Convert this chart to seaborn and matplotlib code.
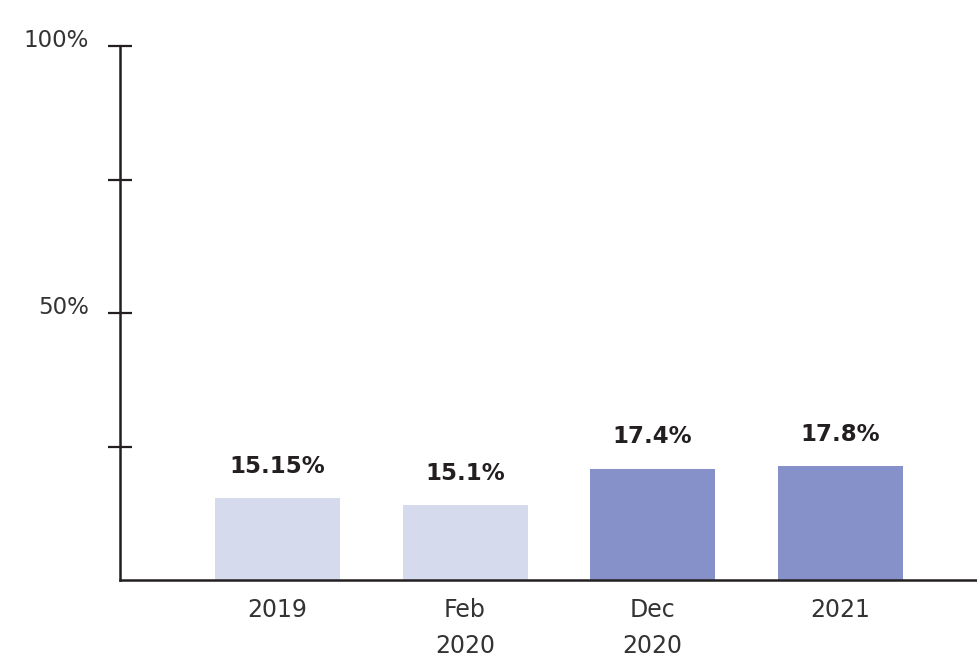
import numpy as np
import pandas as pd
import matplotlib
matplotlib.use("Agg")
import matplotlib.pyplot as plt
import seaborn as sns
from matplotlib.transforms import ScaledTranslation

# donnees
periods = ["2019", "Feb\n2020", "Dec\n2020", "2021"]
bar_heights = [15.36, 14.04, 20.8, 21.35]   # hauteurs
bar_labels = ["15.15%", "15.1%", "17.4%", "17.8%"]
bar_colors = ["#d5dbed", "#d5dbed", "#8591c8", "#8591c8"]
y_ticks = [25, 50, 75, 100]
y_ticklabels = ["", "50%", "", "100%"]

sns.set_style("white")
plt.rcParams["font.family"] = ["DejaVu Sans"]
ink = "#231f20"

df = pd.DataFrame({"period": periods, "value": bar_heights})

fig = plt.figure(figsize=(9.77, 6.62), dpi=100)
ax = fig.add_axes([120 / 977, 82 / 662, 857 / 977, 534 / 662])

sns.barplot(data=df, x="period", y="value", hue="period",
            palette=bar_colors, legend=False, width=0.667, ax=ax,
            saturation=1, linewidth=0)

# etiquettes au-dessus des barres
for i, (h, lab) in enumerate(zip(bar_heights, bar_labels)):
    ax.annotate(lab, (i, h), xytext=(0, 23), textcoords="offset points",
                ha="center", va="center", fontsize=16.5, fontweight="bold",
                color=ink)

ax.set_xlim(-0.84, 3.73)
ax.set_ylim(0, 100)
ax.set_yticks(y_ticks)
ax.set_yticklabels(y_ticklabels, fontsize=16.5, color="#333333")
ax.set_xlabel("")
ax.set_ylabel("")
ax.tick_params(axis="y", left=True, direction="inout", length=17, width=1.6,
               color=ink, pad=14)
ax.tick_params(axis="x", bottom=False, length=0, pad=13, labelsize=17,
               labelcolor="#333333")
for lab in ax.get_xticklabels():
    lab.set_linespacing(1.65)
for lab in ax.get_yticklabels():
    lab.set_transform(lab.get_transform()
                      + ScaledTranslation(0, 8 / 100, fig.dpi_scale_trans))

sns.despine(ax=ax, top=True, right=True)
for side in ["left", "bottom"]:
    ax.spines[side].set_linewidth(1.8)
    ax.spines[side].set_color(ink)

fig.savefig("out.png", dpi=100)
